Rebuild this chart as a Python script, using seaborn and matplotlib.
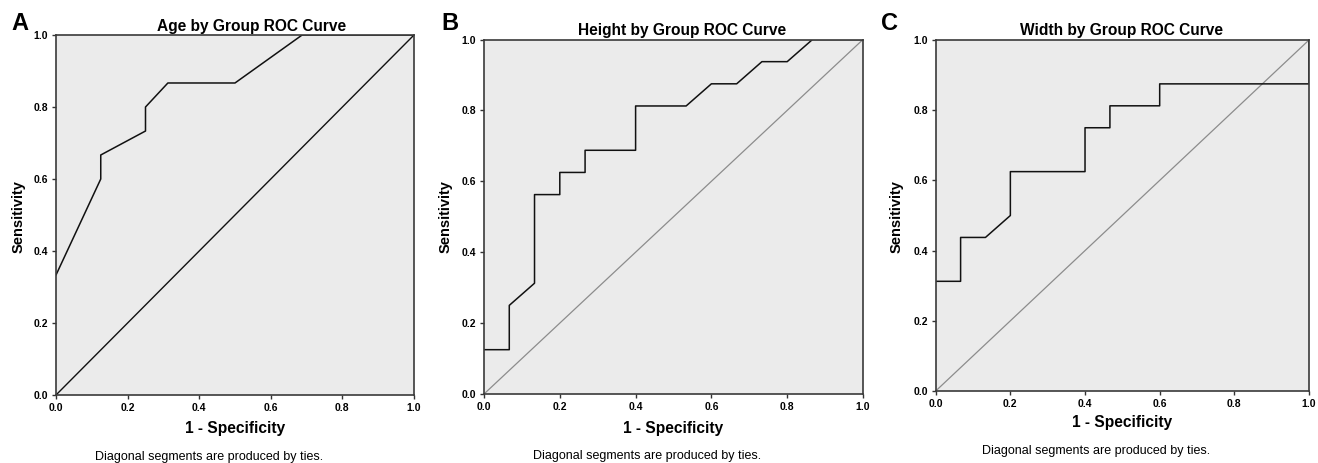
import matplotlib
matplotlib.use("Agg")
import matplotlib.pyplot as plt
import seaborn as sns
import pandas as pd

# ---- data ----
age_fpr = [0.0, 0.125, 0.125, 0.25, 0.25, 0.3125, 0.5, 0.6875, 1.0]
age_tpr = [0.3333, 0.6, 0.6667, 0.7333, 0.8, 0.8667, 0.8667, 1.0, 1.0]

height_fpr = [0.0, 0.0667, 0.0667, 0.1333, 0.1333, 0.2, 0.2, 0.2667, 0.2667, 0.4, 0.4,
              0.5333, 0.6, 0.6667, 0.7333, 0.8, 0.8667, 1.0]
height_tpr = [0.125, 0.125, 0.25, 0.3125, 0.5625, 0.5625, 0.625, 0.625, 0.6875, 0.6875, 0.8125,
              0.8125, 0.875, 0.875, 0.9375, 0.9375, 1.0, 1.0]

width_fpr = [0.0, 0.0667, 0.0667, 0.1333, 0.2, 0.2, 0.4, 0.4, 0.4667, 0.4667, 0.6, 0.6, 1.0, 1.0]
width_tpr = [0.3125, 0.3125, 0.4375, 0.4375, 0.5, 0.625, 0.625, 0.75, 0.75, 0.8125, 0.8125, 0.875, 0.875, 1.0]

ref_line = [0.0, 1.0]
ticks = [0.0, 0.2, 0.4, 0.6, 0.8, 1.0]
tick_labels = ["0.0", "0.2", "0.4", "0.6", "0.8", "1.0"]

titles = ["Age by Group ROC Curve", "Height by Group ROC Curve", "Width by Group ROC Curve"]
letters = ["A", "B", "C"]
xlabel = "1 - Specificity"
ylabel = "Sensitivity"
footnote = "Diagonal segments are produced by ties."

sns.set_theme(style="white")
plt.rcParams["font.family"] = ["Liberation Sans", "DejaVu Sans"]
plt.rcParams["text.color"] = "black"
plt.rcParams["xtick.color"] = "black"
plt.rcParams["ytick.color"] = "black"

W, H = 1318, 463
fig = plt.figure(figsize=(W / 100, H / 100), dpi=100)

def box(l, t, r, b):
    return [l / W, 1 - b / H, (r - l) / W, (b - t) / H]

panels = [
    dict(fpr=age_fpr, tpr=age_tpr, rect=box(56, 35, 414, 395), diag="#111111", diag_lw=1.0,
         title_xy=(252, 27), letter_xy=(20, 24), ylab_xy=(19, 217), xlab_xy=(235, 429), foot_xy=(209, 457)),
    dict(fpr=height_fpr, tpr=height_tpr, rect=box(484, 39.5, 863, 394), diag="#8c8c8c", diag_lw=0.9,
         title_xy=(682, 30), letter_xy=(450, 23), ylab_xy=(446, 217), xlab_xy=(673, 428), foot_xy=(647, 456)),
    dict(fpr=width_fpr, tpr=width_tpr, rect=box(935.7, 40, 1309, 391), diag="#8c8c8c", diag_lw=0.9,
         title_xy=(1122, 31), letter_xy=(889, 23), ylab_xy=(897, 217), xlab_xy=(1122, 423), foot_xy=(1096, 451)),
]

for i, p in enumerate(panels):
    ax = fig.add_axes(p["rect"])
    ax.set_facecolor("#ebebeb")
    sns.lineplot(x=ref_line, y=ref_line, ax=ax, color=p["diag"], lw=p["diag_lw"],
                 sort=False, estimator=None)
    sns.lineplot(x=p["fpr"], y=p["tpr"], ax=ax, color="#111111", lw=1.1,
                 sort=False, estimator=None)
    ax.set_xlim(0, 1)
    ax.set_ylim(0, 1)
    ax.set_xticks(ticks)
    ax.set_yticks(ticks)
    ax.set_xticklabels(tick_labels, fontsize=7.5, fontweight="bold")
    ax.set_yticklabels(tick_labels, fontsize=7.5, fontweight="bold")
    ax.tick_params(axis="both", which="major", length=3, width=1, color="#333333",
                   pad=2.5, left=True, bottom=True, top=False, right=False)
    for s in ax.spines.values():
        s.set_visible(True)
        s.set_color("#3a3a3a")
        s.set_linewidth(1.2)
    ax.set_xlabel("")
    ax.set_ylabel("")

    tx, ty = p["title_xy"]
    fig.text(tx / W, 1 - ty / H, titles[i], ha="center", va="center",
             fontsize=11.2, fontweight="bold")
    lx, ly = p["letter_xy"]
    fig.text(lx / W, 1 - ly / H, letters[i], ha="center", va="center",
             fontsize=17, fontweight="bold")
    yx, yy = p["ylab_xy"]
    fig.text(yx / W, 1 - yy / H, ylabel, ha="center", va="center", rotation=90,
             fontsize=10.5, fontweight="bold")
    xx, xy = p["xlab_xy"]
    fig.text(xx / W, 1 - xy / H, xlabel, ha="center", va="center",
             fontsize=11.2, fontweight="bold")
    fx, fy = p["foot_xy"]
    fig.text(fx / W, 1 - fy / H, footnote, ha="center", va="center", fontsize=9)

fig.savefig("out.png", dpi=100, facecolor="white")
